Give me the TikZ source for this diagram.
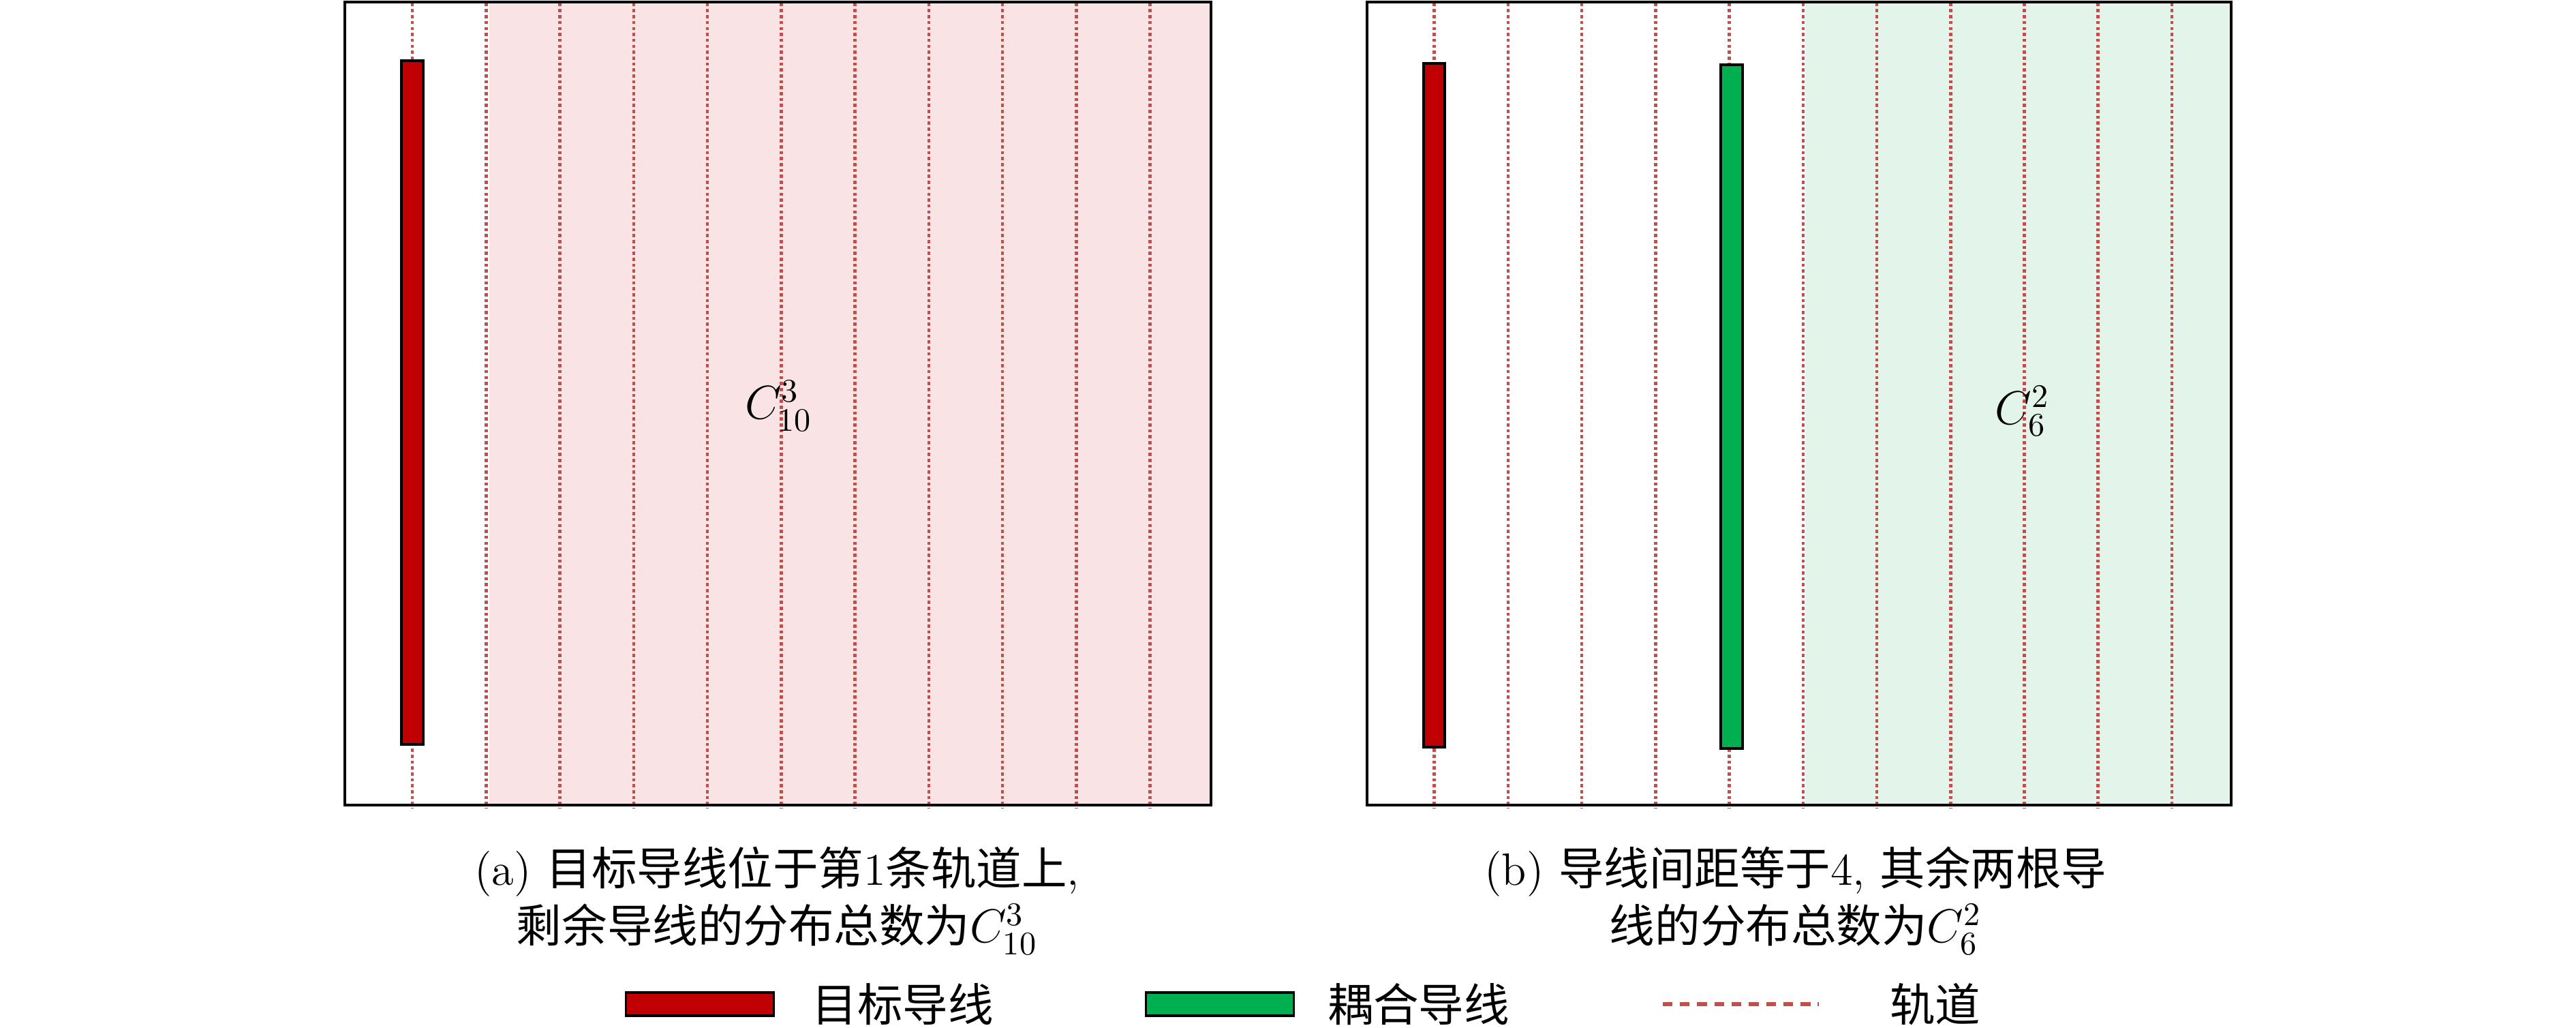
\documentclass[tikz,border=0pt]{standalone}
\usepackage{fontspec}
\newfontfamily\cjk{Noto Sans CJK SC}
\definecolor{trackred}{RGB}{192,80,77}
\definecolor{wirered}{RGB}{192,0,0}
\definecolor{wiregreen}{RGB}{0,176,80}
\definecolor{pinkbg}{RGB}{249,227,228}
\definecolor{greenbg}{RGB}{227,245,234}
\begin{document}
\begin{tikzpicture}[x=0.5pt,y=-0.5pt,
  font=\fontsize{13.8pt}{17.5pt}\selectfont,
  track/.style={trackred, line width=0.95pt, dash pattern=on 0.95pt off 0.85pt},
  legendtrack/.style={trackred, line width=1.2pt, dash pattern=on 3pt off 2.25pt},
  frameline/.style={draw=black, line width=0.8pt},
  wire/.style={draw=black, line width=0.8pt, minimum width=6.5pt, minimum height=208pt, inner sep=0pt},
  legendbox/.style={draw=black, line width=0.8pt, minimum width=45pt, minimum height=7pt, inner sep=0pt},
  caption/.style={align=center, inner sep=0pt},
  legendtext/.style={anchor=west, inner sep=0pt}]
\useasboundingbox (0,0) rectangle (1568,625.5);
% ---------- panel (a) ----------
\fill[pinkbg] (298,1.2) rectangle (737,490);
\foreach \k in {0,...,10}{
  \draw[track] (251+44.9*\k,2) -- (251+44.9*\k,492);
}
\draw[frameline] (210,1.2) rectangle (737,490);
\node[wire, fill=wirered] (ta) at (251,245) {};
\node (la) at (474,247) {$C_{10}^{3}$};
\node[caption] (capa) at (473,548) {(a) {\cjk 目标导线位于第}1{\cjk 条轨道上},\\{\cjk 剩余导线的分布总数为}$C_{10}^{3}$};
% ---------- panel (b) ----------
\fill[greenbg] (1099,1.2) rectangle (1358,490);
\foreach \k in {0,...,10}{
  \draw[track] (873+44.9*\k,2) -- (873+44.9*\k,492);
}
\draw[frameline] (832,1.2) rectangle (1358,490);
\node[wire, fill=wirered] (tb) at (873,246.5) {};
\node[wire, fill=wiregreen] (cb) at (1054,247.5) {};
\node (lb) at (1231,250) {$C_{6}^{2}$};
\node[caption] (capb) at (1093,548) {(b) {\cjk 导线间距等于}4, {\cjk 其余两根导}\\{\cjk 线的分布总数为}$C_{6}^{2}$};
% ---------- legend ----------
\node[legendbox, fill=wirered] (lg1) at (426,611) {};
\node[legendtext] (lt1) at (494,611) {\cjk 目标导线};
\node[legendbox, fill=wiregreen] (lg2) at (742.5,611) {};
\node[legendtext] (lt2) at (808,611) {\cjk 耦合导线};
\coordinate (ls) at (1012,611);
\coordinate (le) at (1107,611);
\draw[legendtrack] (ls) -- (le);
\node[legendtext] (lt3) at (1150,611) {\cjk 轨道};
\end{tikzpicture}
\end{document}
